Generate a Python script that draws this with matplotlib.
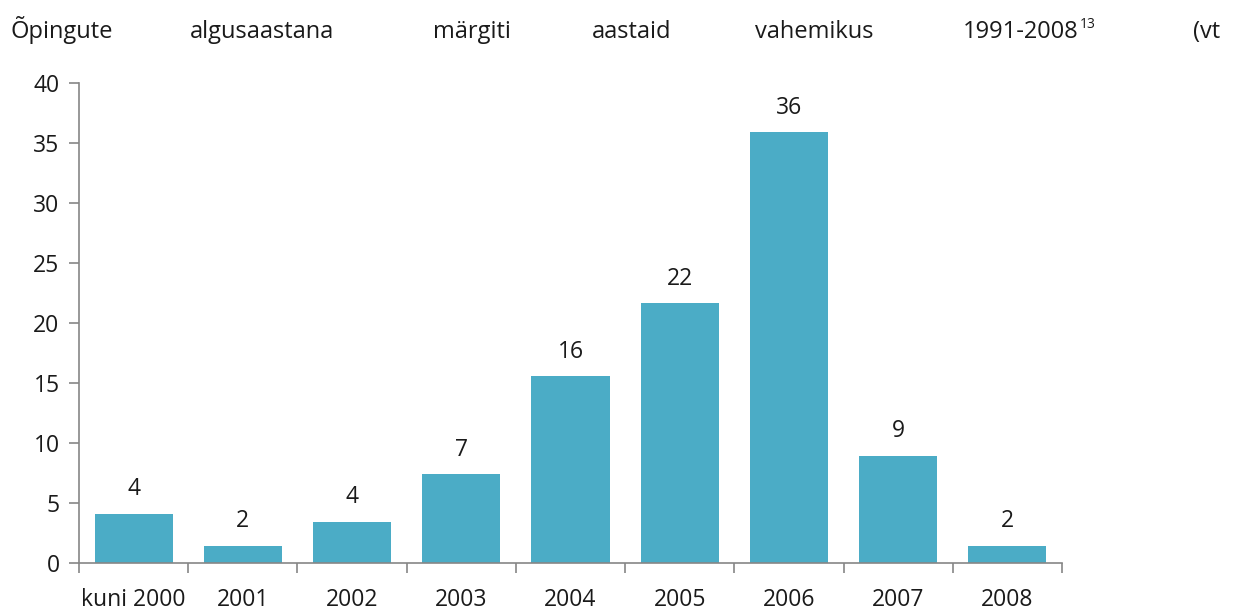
import matplotlib
matplotlib.use("Agg")
import matplotlib.pyplot as plt
import numpy as np

categories = ["kuni 2000", "2001", "2002", "2003", "2004", "2005", "2006", "2007", "2008"]
values = [4.1, 1.45, 3.45, 7.4, 15.55, 21.65, 35.9, 8.95, 1.45]
labels = ["4", "2", "4", "7", "16", "22", "36", "9", "2"]
yticks = [0, 5, 10, 15, 20, 25, 30, 35, 40]
header_words = ["Õpingute", "algusaastana", "märgiti", "aastaid", "vahemikus", "1991-2008", "(vt"]
header_x = [10, 190, 433, 592, 755, 963, 1193]

plt.rcParams['font.family'] = ['Open Sans', 'DejaVu Sans']
W, H = 1233, 610
fig = plt.figure(figsize=(W/100, H/100), dpi=100)
ax = fig.add_axes([79/W, (H-563)/H, (1062-79)/W, (563-83)/H])

bar_color = "#4BACC6"
axis_color = "#868686"
text_color = "#1a1a1a"
fs = 16.5

x = np.arange(len(categories))
ax.bar(x, values, width=0.715, color=bar_color, edgecolor="none", zorder=2)
for xi, v, lab in zip(x, values, labels):
    ax.annotate(lab, (xi, v), xytext=(0, 9), textcoords="offset points",
                ha="center", va="bottom", fontsize=fs, color=text_color)

ax.set_xlim(-0.5, len(categories) - 0.5)
ax.set_ylim(0, 40)
ax.set_yticks(yticks)
ax.set_yticklabels([str(t) for t in yticks], fontsize=fs, color=text_color)
ax.set_xticks(x)
ax.set_xticklabels(categories, fontsize=fs, color=text_color)
ax.set_xticks(np.arange(-0.5, len(categories)), minor=True)
ax.tick_params(axis="x", which="major", length=0, pad=18)
ax.tick_params(axis="x", which="minor", length=7, color=axis_color, width=1.2)
ax.tick_params(axis="y", length=7, color=axis_color, width=1.2, pad=7)

for side in ["top", "right"]:
    ax.spines[side].set_visible(False)
for side in ["left", "bottom"]:
    ax.spines[side].set_color(axis_color)
    ax.spines[side].set_linewidth(1.2)

texts = []
for word, px in zip(header_words, header_x):
    t = fig.text(px/W, 1 - 38/H, word, ha="left", va="baseline", fontsize=17, color=text_color)
    texts.append(t)
# superscript 13 after "1991-2008"
fig.canvas.draw()
ax_t = texts[5]
ax_ann = fig.text(0, 0, "", fontsize=1)
bb = ax_t.get_window_extent(renderer=fig.canvas.get_renderer())
fig.text(bb.x1/W + 1/W, 1 - 24/H, "13", ha="left", va="center", fontsize=10, color=text_color)

fig.savefig("out.png", dpi=100, facecolor="white")
